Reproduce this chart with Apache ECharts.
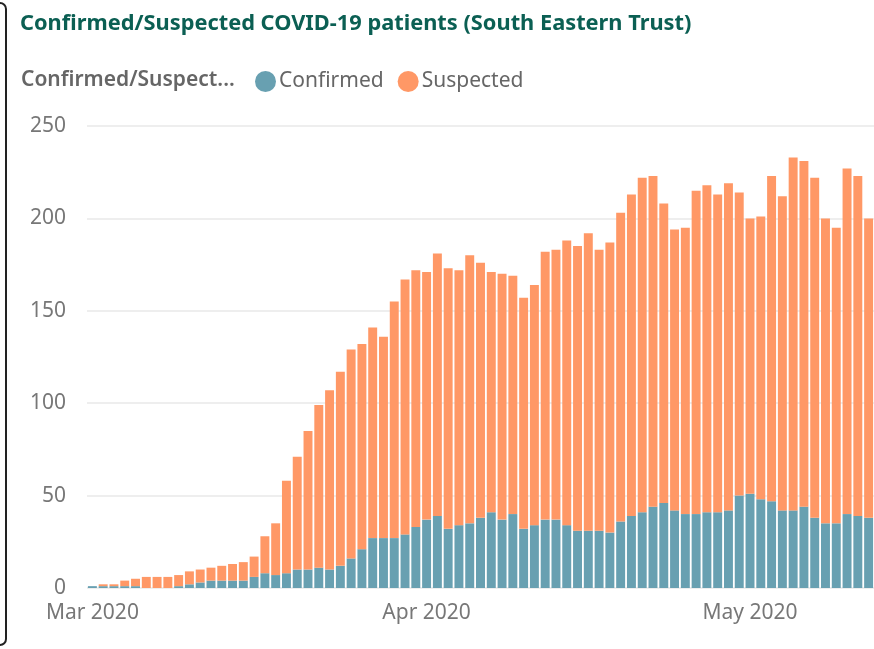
<!DOCTYPE html>
<html>
<head>
<meta charset="utf-8">
<script src="https://cdn.jsdelivr.net/npm/echarts@6/dist/echarts.min.js"></script>
<style>
html,body{margin:0;padding:0;background:#fff;}
#chart{width:874px;height:649px;}
</style>
</head>
<body>
<div id="chart"></div>
<script>
// Days from 1 Mar 2020 to 12 May 2020 (MM-DD)
const categories = [
 '03-01','03-02','03-03','03-04','03-05','03-06','03-07','03-08','03-09','03-10',
 '03-11','03-12','03-13','03-14','03-15','03-16','03-17','03-18','03-19','03-20',
 '03-21','03-22','03-23','03-24','03-25','03-26','03-27','03-28','03-29','03-30','03-31',
 '04-01','04-02','04-03','04-04','04-05','04-06','04-07','04-08','04-09','04-10',
 '04-11','04-12','04-13','04-14','04-15','04-16','04-17','04-18','04-19','04-20',
 '04-21','04-22','04-23','04-24','04-25','04-26','04-27','04-28','04-29','04-30',
 '05-01','05-02','05-03','05-04','05-05','05-06','05-07','05-08','05-09','05-10','05-11','05-12'
];
const confirmed = [
 1,1,1,1,1,0,0,0,1,2,
 3,4,4,4,4,6,8,7,8,10,
 10,11,10,12,16,21,27,27,27,29,
 33,37,39,32,34,35,38,41,37,40,
 32,34,37,37,34,31,31,31,30,36,
 39,41,44,46,42,40,40,41,41,42,
 50,51,48,47,42,42,44,38,35,35,
 40,39,38
];
const suspected = [
 0,1,1,3,4,6,6,6,6,7,
 7,7,8,9,10,11,20,28,50,61,
 75,88,97,105,113,111,114,109,128,138,
 139,134,142,141,138,145,138,130,133,129,
 125,130,145,146,154,154,161,152,157,167,
 174,181,179,162,152,155,175,177,172,177,
 164,149,153,176,170,191,187,184,165,160,
 187,184,162
];
const xTickLabels = {'03-01':'Mar 2020','04-01':'Apr 2020','05-01':'May 2020'};
const yTicks = [0,50,100,150,200,250];
const seriesNames = ['Confirmed','Suspected'];
const titleText = 'Confirmed/Suspected COVID-19 patients (South Eastern Trust)';
const legendTitle = 'Confirmed/Suspect...';

const FONT = '"Segoe UI","Noto Sans","Open Sans",sans-serif';
const chart = echarts.init(document.getElementById('chart'), null, {renderer:'canvas'});
chart.setOption({
  animation:false,
  backgroundColor:'#fff',
  title:{
    text:titleText, left:20, top:13, padding:0,
    textStyle:{fontFamily:FONT, fontSize:21.8, fontWeight:'bold', color:'#0B5F53'}
  },
  graphic:[
    {type:'rect', shape:{x:-20,y:3,width:26,height:642,r:6}, style:{fill:'none',stroke:'#222',lineWidth:2}},
    {type:'text', x:21, y:80, style:{text:legendTitle, font:'600 21px '+FONT, fill:'#666', verticalAlign:'middle'}}
  ],
  legend:{
    data:seriesNames, left:255, top:71, padding:0, icon:'circle', itemWidth:21, itemHeight:21, itemGap:14,
    textStyle:{fontFamily:FONT, fontSize:21, color:'#666', padding:[0,0,0,-2]}
  },
  grid:{left:87, right:-1, top:126, bottom:61, containLabel:false},
  xAxis:{
    type:'category', data:categories,
    axisLine:{show:false}, axisTick:{show:false},
    axisLabel:{
      interval:function(i,v){return xTickLabels[v]!==undefined;},
      formatter:function(v){return xTickLabels[v]||'';},
      fontFamily:FONT, fontSize:21, color:'#777', margin:15
    }
  },
  yAxis:{
    type:'value', min:0, max:250, interval:50,
    axisLine:{show:false}, axisTick:{show:false},
    axisLabel:{fontFamily:FONT, fontSize:21, color:'#777', margin:21,
      formatter:function(v){return yTicks.indexOf(v)>=0?String(v):'';}},
    splitLine:{lineStyle:{color:'#e9e9e9', width:1.5}}
  },
  series:[
    {name:seriesNames[0], type:'bar', stack:'t', data:confirmed, barCategoryGap:'17%', itemStyle:{color:'#68A0B1'}},
    {name:seriesNames[1], type:'bar', stack:'t', data:suspected, barCategoryGap:'17%', itemStyle:{color:'#FF9866'}}
  ]
});
</script>
</body>
</html>
